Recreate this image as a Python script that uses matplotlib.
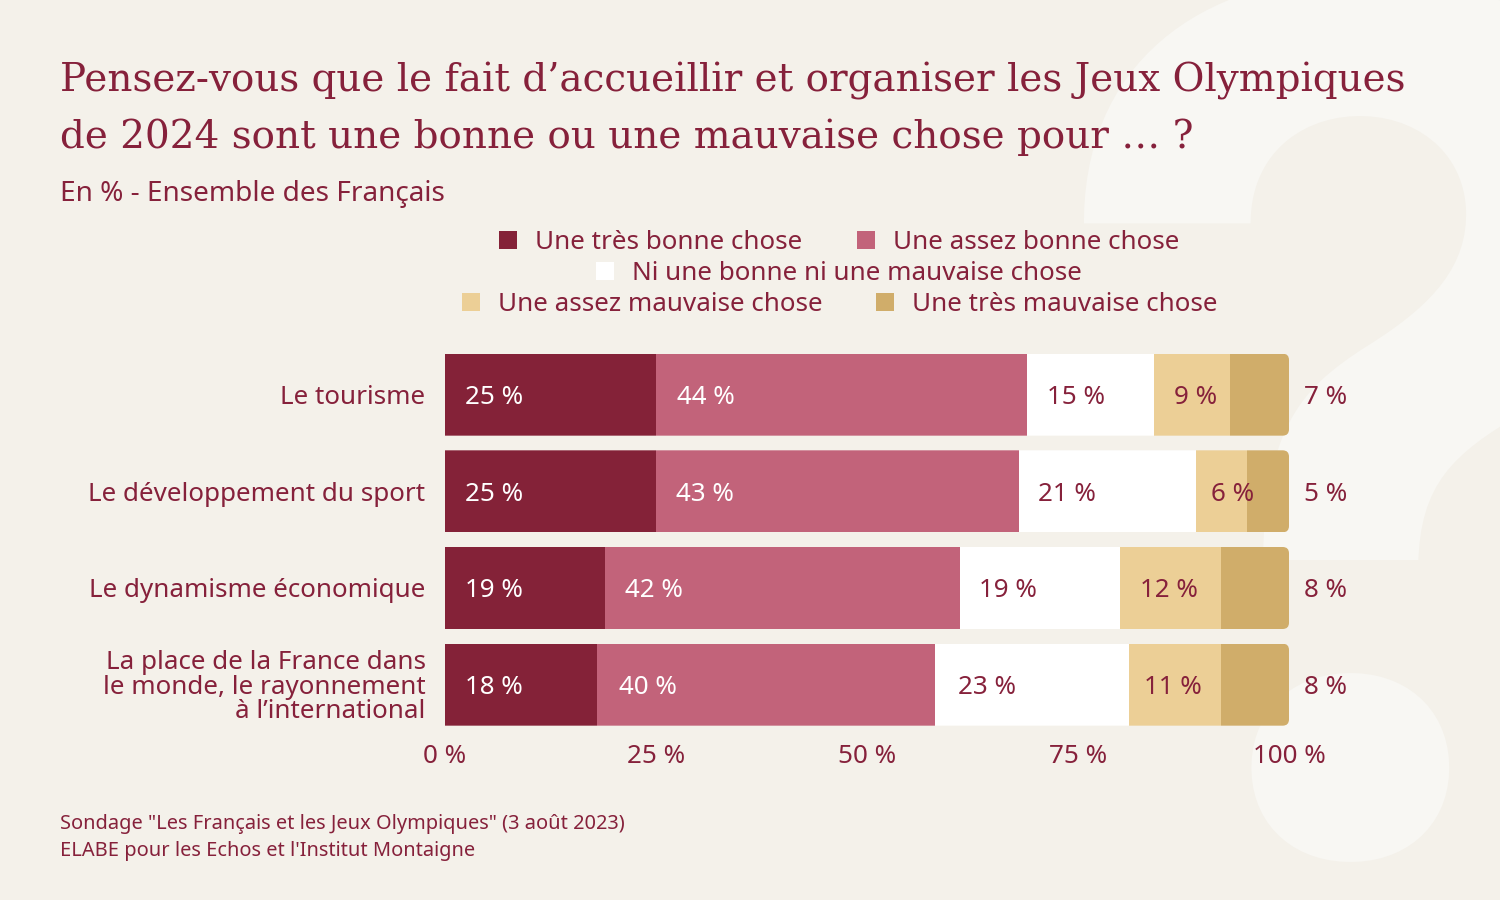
import matplotlib.pyplot as plt
from matplotlib.patches import FancyBboxPatch, Rectangle

categories = [
    "Le tourisme",
    "Le développement du sport",
    "Le dynamisme économique",
    "La place de la France dans\nle monde, le rayonnement\nà l’international",
]
tres_bonne = [25, 25, 19, 18]
assez_bonne = [44, 43, 42, 40]
ni_bonne = [15, 21, 19, 23]
assez_mauvaise = [9, 6, 12, 11]
tres_mauvaise = [7, 5, 8, 8]

series = [tres_bonne, assez_bonne, ni_bonne, assez_mauvaise, tres_mauvaise]
series_names = [
    "Une très bonne chose",
    "Une assez bonne chose",
    "Ni une bonne ni une mauvaise chose",
    "Une assez mauvaise chose",
    "Une très mauvaise chose",
]
x_ticks = [0, 25, 50, 75, 100]

BG = "#F4F1EA"
MARK = "#F8F7F3"
TEXT = "#86213B"
COLORS = ["#842238", "#C2637A", "#FFFFFF", "#ECCF96", "#D0AD6A"]
LABEL_COLORS = ["white", "white", TEXT, TEXT]

W, H = 1500, 900
plt.rcParams["font.family"] = ["Noto Sans", "DejaVu Sans"]

fig = plt.figure(figsize=(W / 100, H / 100), dpi=100, facecolor=BG)


def fx(px):
    return px / W


def fy(py):
    return 1 - py / H


def pale_mark(x, base, size, top, bottom):
    # one slice of the big pale question mark, kept between two pixel rows
    t = fig.text(fx(x), fy(base), "?", fontsize=size, family="Inter", fontweight="bold",
                 color=MARK, ha="center", va="baseline", zorder=-1)
    t.set_clip_on(True)
    t.set_clip_path(Rectangle((0, fy(bottom)), 1, (bottom - top) / H, transform=fig.transFigure))


# the bowl and the dot need slightly different sizes to sit where they do
pale_mark(1368, 850.6, 854, 0, 560)
pale_mark(1377, 851, 822, 620, 900)

# Title block
fig.text(fx(60), fy(81), "Pensez-vous que le fait d’accueillir et organiser les Jeux Olympiques",
         fontsize=28, family="DejaVu Serif", color=TEXT, va="center")
fig.text(fx(60), fy(137), "de 2024 sont une bonne ou une mauvaise chose pour … ?",
         fontsize=28, family="DejaVu Serif", color=TEXT, va="center")
fig.text(fx(60), fy(194), "En % - Ensemble des Français", fontsize=20.16, color=TEXT, va="center")

# Legend, three centred rows
legend_pos = [(499, 240), (857, 240), (596, 271), (462, 302), (876, 302)]
for name, color, (lx, ly) in zip(series_names, COLORS, legend_pos):
    fig.patches.append(Rectangle((fx(lx), fy(ly + 9)), 18 / W, 18 / H, transform=fig.transFigure,
                                 facecolor=color, edgecolor="none"))
    fig.text(fx(lx + 36), fy(ly + 2.5), name, fontsize=18.72, color=TEXT, va="center")

# Bars
pitch = 96.67
ax = fig.add_axes([fx(445), fy(733), 844 / W, 4 * pitch / H])
ax.set_zorder(1)
ax.patch.set_visible(False)
for side in ax.spines.values():
    side.set_visible(False)

bar_h = 82 / pitch
aspect = (1 / pitch) / (100 / 844)
y_pos = list(range(len(categories)))

# a few value labels sit off the usual 20 px inset: (row, series) -> px
label_nudge = {(0, 1): 1, (1, 2): -1, (1, 3): -5, (2, 2): -1, (3, 1): 2, (3, 2): 3, (3, 3): -5}

for row in y_pos:
    left = 0
    clip = FancyBboxPatch((-5, row - bar_h / 2), 105, bar_h,
                          boxstyle="round,pad=0,rounding_size=0.75",
                          mutation_aspect=aspect, transform=ax.transData)
    for s, vals in enumerate(series):
        bar = ax.barh(row, vals[row], left=left, height=bar_h, color=COLORS[s], linewidth=0)[0]
        bar.set_clip_path(clip)
        if s < 4:
            ax.annotate(f"{vals[row]} %", (left, row), xytext=(20 + label_nudge.get((row, s), 0), -3),
                        textcoords="offset pixels", color=LABEL_COLORS[s], fontsize=18.72,
                        va="center", ha="left")
        else:
            ax.annotate(f"{vals[row]} %", (100, row), xytext=(15, -3), textcoords="offset pixels",
                        color=TEXT, fontsize=18.72, va="center", ha="left")
        left += vals[row]

ax.set_xlim(0, 100)
ax.set_ylim(3.5, -0.5)
ax.set_xticks(x_ticks)
ax.set_xticklabels([f"{t} %" for t in x_ticks], fontsize=18.72, color=TEXT)
ax.set_yticks(y_pos)
ax.set_yticklabels(categories, fontsize=18.72, color=TEXT, linespacing=0.97, multialignment="right")
ax.tick_params(axis="both", length=0)
ax.tick_params(axis="y", pad=14)
ax.tick_params(axis="x", pad=8)

# Source
fig.text(fx(60), fy(824), "Sondage \"Les Français et les Jeux Olympiques\" (3 août 2023)",
         fontsize=14.4, color=TEXT, va="center")
fig.text(fx(60), fy(851), "ELABE pour les Echos et l'Institut Montaigne",
         fontsize=14.4, color=TEXT, va="center")

fig.savefig("out.png", dpi=100, facecolor=BG)
